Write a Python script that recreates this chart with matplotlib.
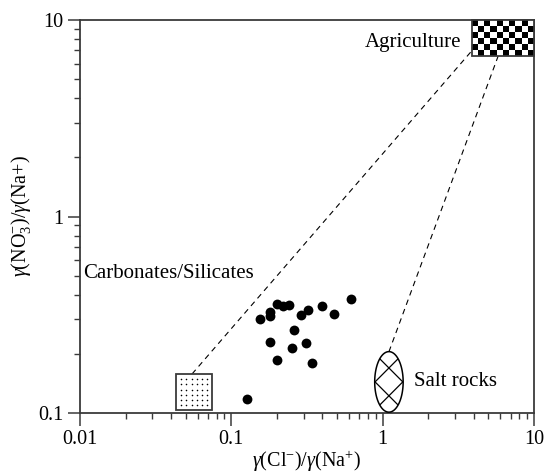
import numpy as np
import matplotlib
matplotlib.use("Agg")
import matplotlib.pyplot as plt
from matplotlib.patches import Rectangle, Polygon

plt.rcParams["font.family"] = ["Liberation Serif", "DejaVu Serif"]
plt.rcParams["mathtext.fontset"] = "custom"
plt.rcParams["mathtext.rm"] = "Liberation Serif"
plt.rcParams["mathtext.it"] = "Liberation Serif:italic"

# sample ratios
cl_na = [0.62, 0.20, 0.22, 0.24, 0.18, 0.18, 0.155, 0.32, 0.29,
         0.40, 0.48, 0.26, 0.18, 0.25, 0.31, 0.20, 0.34, 0.127]
no3_na = [0.38, 0.357, 0.35, 0.354, 0.325, 0.31, 0.30, 0.334, 0.315,
          0.35, 0.32, 0.265, 0.23, 0.215, 0.226, 0.186, 0.18, 0.118]

# end-member fields
carb_x = (0.043, 0.075)
carb_y = (0.103, 0.158)
agri_x = (3.87, 10.0)
agri_y = (6.56, 10.0)
salt_center = (1.10, 0.144)
salt_half_dec = (0.094, 0.154)   # half axes in decades

# mixing lines
mix1_x = [0.055, 3.9]
mix1_y = [0.158, 7.0]
mix2_x = [1.10, 5.8]
mix2_y = [0.205, 6.56]

fig = plt.figure(figsize=(5.45, 4.75), dpi=100)
ax = fig.add_axes([0.1468, 0.1305, 0.8330, 0.8274])
ax.set_xscale("log")
ax.set_yscale("log")
ax.set_xlim(0.01, 10)
ax.set_ylim(0.1, 10)

edge = "#3a3a3a"

# mixing lines
ax.plot(mix1_x, mix1_y, color="black", lw=0.8, ls=(0, (5, 4)), zorder=2)
ax.plot(mix2_x, mix2_y, color="black", lw=0.8, ls=(0, (5, 4)), zorder=2)

# carbonates/silicates box with dot fill
ax.add_patch(Rectangle((carb_x[0], carb_y[0]), carb_x[1] - carb_x[0],
                       carb_y[1] - carb_y[0], facecolor="white",
                       edgecolor=edge, lw=1.3, zorder=3))
dx = np.geomspace(carb_x[0], carb_x[1], 8)[1:-1]
dy = np.geomspace(carb_y[0], carb_y[1], 8)[1:-1]
gx, gy = np.meshgrid(dx, dy)
ax.scatter(gx.ravel(), gy.ravel(), s=1.3, color="black", zorder=4, linewidths=0)

# agriculture box, checkerboard
xe = np.geomspace(agri_x[0], agri_x[1], 11)
ye = np.geomspace(agri_y[0], agri_y[1], 7)
rows, cols = np.meshgrid(np.arange(6), np.arange(10), indexing="ij")
board = (rows + cols) % 2
ax.pcolormesh(xe, ye, board, cmap="gray_r", vmin=0, vmax=1, zorder=3)
ax.add_patch(Rectangle((agri_x[0], agri_y[0]), agri_x[1] - agri_x[0],
                       agri_y[1] - agri_y[0], facecolor="none",
                       edgecolor=edge, lw=1.3, zorder=4, clip_on=False))

# salt rocks ellipse with cross hatch
t = np.linspace(0, 2 * np.pi, 200)
lx0, ly0 = np.log10(salt_center[0]), np.log10(salt_center[1])
ex = 10 ** (lx0 + salt_half_dec[0] * np.cos(t))
ey = 10 ** (ly0 + salt_half_dec[1] * np.sin(t))
ell = Polygon(np.column_stack([ex, ey]), closed=True, facecolor="white",
              edgecolor="black", lw=1.1, zorder=3)
ax.add_patch(ell)
u = np.linspace(-1.3, 1.3, 50)
for s in (0.472, -0.472):
    for c in (0.46, -0.46):
        v = s * u + c
        ln, = ax.plot(10 ** (lx0 + salt_half_dec[0] * u),
                      10 ** (ly0 + salt_half_dec[1] * v),
                      color="black", lw=0.9, zorder=4)
        ln.set_clip_path(ell)

# samples
ax.scatter(cl_na, no3_na, s=50, color="black", zorder=5, linewidths=0)

# labels
ax.text(3.3, 7.7, "Agriculture", ha="right", va="center", fontsize=15)
ax.text(0.0105, 0.51, "Carbonates/Silicates", ha="left", va="center", fontsize=15)
ax.text(1.62, 0.144, "Salt rocks", ha="left", va="center", fontsize=15)

ax.set_xlabel(r"$\gamma$(Cl$^{-}$)/$\gamma$(Na$^{+}$)", fontsize=14.5, labelpad=0)
ax.set_ylabel(r"$\gamma$(NO$_3^{-}$)/$\gamma$(Na+)", fontsize=14.5, labelpad=4)

ax.set_xticks([0.01, 0.1, 1, 10])
ax.set_xticklabels(["0.01", "0.1", "1", "10"])
ax.set_yticks([0.1, 1, 10])
ax.set_yticklabels(["0.1", "1", "10"])
ax.tick_params(which="major", direction="out", length=9, width=1.1,
               labelsize=14.5, color=edge, pad=3)
ax.tick_params(which="minor", direction="out", length=4.5, width=1.0, color=edge)
for sp in ax.spines.values():
    sp.set_color(edge)
    sp.set_linewidth(1.3)

fig.savefig("out.png", dpi=100)
